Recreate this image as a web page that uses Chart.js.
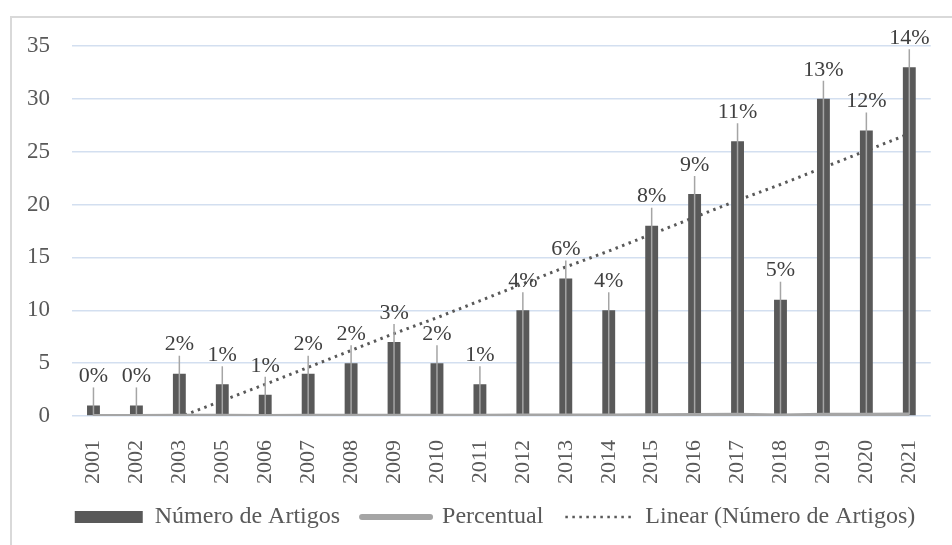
<!DOCTYPE html>
<html>
<head>
<meta charset="utf-8">
<script src="https://cdn.jsdelivr.net/npm/chart.js@4.4.1/dist/chart.umd.min.js"></script>
<style>
  body { margin: 0; background: #fff; overflow: hidden; }
  #frame { position: absolute; left: 10px; top: 16px; width: 1000px; height: 600px; border: 2px solid #d9d9d9; }
  #wrap { position: absolute; left: 0; top: 0; width: 952px; height: 545px; }
</style>
</head>
<body>
<div id="frame"></div>
<div id="wrap"><canvas id="artigosChart"></canvas></div>
<script>
// Years (2004 has no entry in the source chart)
const years = ['2001', '2002', '2003', '2005', '2006', '2007', '2008', '2009', '2010', '2011',
               '2012', '2013', '2014', '2015', '2016', '2017', '2018', '2019', '2020', '2021'];

// Number of articles per year
const numeroArtigos = [1, 1, 4, 3, 2, 4, 5, 7, 5, 3, 10, 13, 10, 18, 21, 26, 11, 30, 27, 33];

// Share of the total, drawn on the same axis (so it sits on the zero line)
const percentual = [0.004, 0.004, 0.017, 0.013, 0.009, 0.017, 0.021, 0.030, 0.021, 0.013,
                    0.043, 0.056, 0.043, 0.077, 0.090, 0.111, 0.047, 0.128, 0.115, 0.141];

// Linear trend of Número de Artigos
const linearTrend = [-3.3, -1.7, -0.1, 1.45, 3.0, 4.6, 6.2, 7.8, 9.3, 10.9,
                     12.5, 14.1, 15.6, 17.2, 18.8, 20.4, 21.9, 23.5, 25.1, 26.7];

const yTicks = [0, 5, 10, 15, 20, 25, 30, 35];

const darkGray = '#595959';
const lightGray = '#a5a5a5';
const textColor = '#595959';
const serif = '"Liberation Serif", "Times New Roman", serif';

// Percent labels above the bars, with leader lines down to the Percentual line
const percentLabels = {
    id: 'percentLabels',
    afterDatasetsDraw(chart) {
        const ctx = chart.ctx;
        const barMeta = chart.getDatasetMeta(1);
        const yScale = chart.scales.y;
        ctx.save();
        ctx.font = '22px ' + serif;
        ctx.fillStyle = '#404040';
        ctx.textAlign = 'center';
        ctx.textBaseline = 'middle';
        barMeta.data.forEach((bar, i) => {
            const labelY = bar.y - 29;
            const zeroY = yScale.getPixelForValue(percentual[i]);
            // leader line
            ctx.strokeStyle = lightGray;
            ctx.lineWidth = 1.5;
            ctx.beginPath();
            ctx.moveTo(bar.x, labelY + 11);
            ctx.lineTo(bar.x, zeroY);
            ctx.stroke();
            ctx.fillText(Math.round(percentual[i] * 100) + '%', bar.x, labelY);
        });
        ctx.restore();
    }
};

const ctx = document.getElementById('artigosChart').getContext('2d');

new Chart(ctx, {
    type: 'bar',
    data: {
        labels: years,
        datasets: [{
            type: 'line',
            label: 'Percentual',
            data: percentual,
            borderColor: lightGray,
            backgroundColor: lightGray,
            borderWidth: 4,
            pointRadius: 0,
            order: 0
        }, {
            label: 'Número de Artigos',
            data: numeroArtigos,
            backgroundColor: darkGray,
            barPercentage: 0.3,
            categoryPercentage: 1.0,
            order: 1
        }, {
            type: 'line',
            label: 'Linear (Número de Artigos)',
            data: linearTrend,
            borderColor: darkGray,
            borderWidth: 3,
            borderDash: [2.5, 4.5],
            pointRadius: 0,
            fill: false,
            order: 2
        }]
    },
    options: {
        responsive: true,
        maintainAspectRatio: false,
        animation: false,
        layout: {
            padding: { left: 50, right: 12, top: 46, bottom: 6 }
        },
        scales: {
            x: {
                grid: { display: false },
                border: { display: false },
                ticks: {
                    color: textColor,
                    font: { family: serif, size: 22 },
                    minRotation: 90,
                    maxRotation: 90,
                    padding: 16,
                    autoSkip: false
                },
                afterFit: (scale) => { scale.height = 67; }
            },
            y: {
                min: 0,
                max: 35,
                afterBuildTicks: (scale) => { scale.ticks = yTicks.map(v => ({ value: v })); },
                grid: { color: '#d3dff0', lineWidth: 1.5, drawTicks: false },
                border: { display: false },
                ticks: {
                    color: textColor,
                    font: { family: serif, size: 23 },
                    // mirrored + right aligned so the labels end 22px left of the plot
                    mirror: true,
                    crossAlign: 'far',
                    padding: -45
                },
                afterFit: (scale) => { scale.width = 22; }
            }
        },
        plugins: {
            tooltip: { enabled: false },
            legend: {
                position: 'bottom',
                labels: {
                    color: textColor,
                    font: { family: serif, size: 24 },
                    usePointStyle: true,
                    pointStyleWidth: 68,
                    boxHeight: 12,
                    padding: 22,
                    // Legend order as in the source: bars, Percentual, trend
                    generateLabels: () => [{
                        text: 'Número de Artigos',
                        pointStyle: 'rect',
                        fillStyle: darkGray,
                        strokeStyle: darkGray,
                        lineWidth: 0,
                        fontColor: textColor,
                        datasetIndex: 1
                    }, {
                        text: 'Percentual',
                        pointStyle: 'line',
                        fillStyle: lightGray,
                        strokeStyle: lightGray,
                        lineWidth: 6,
                        lineCap: 'round',
                        fontColor: textColor,
                        datasetIndex: 0
                    }, {
                        text: 'Linear (Número de Artigos)',
                        pointStyle: 'line',
                        fillStyle: darkGray,
                        strokeStyle: darkGray,
                        lineWidth: 2.5,
                        lineDash: [2.5, 4.5],
                        fontColor: textColor,
                        datasetIndex: 2
                    }]
                }
            }
        }
    },
    plugins: [percentLabels]
});
</script>
</body>
</html>
